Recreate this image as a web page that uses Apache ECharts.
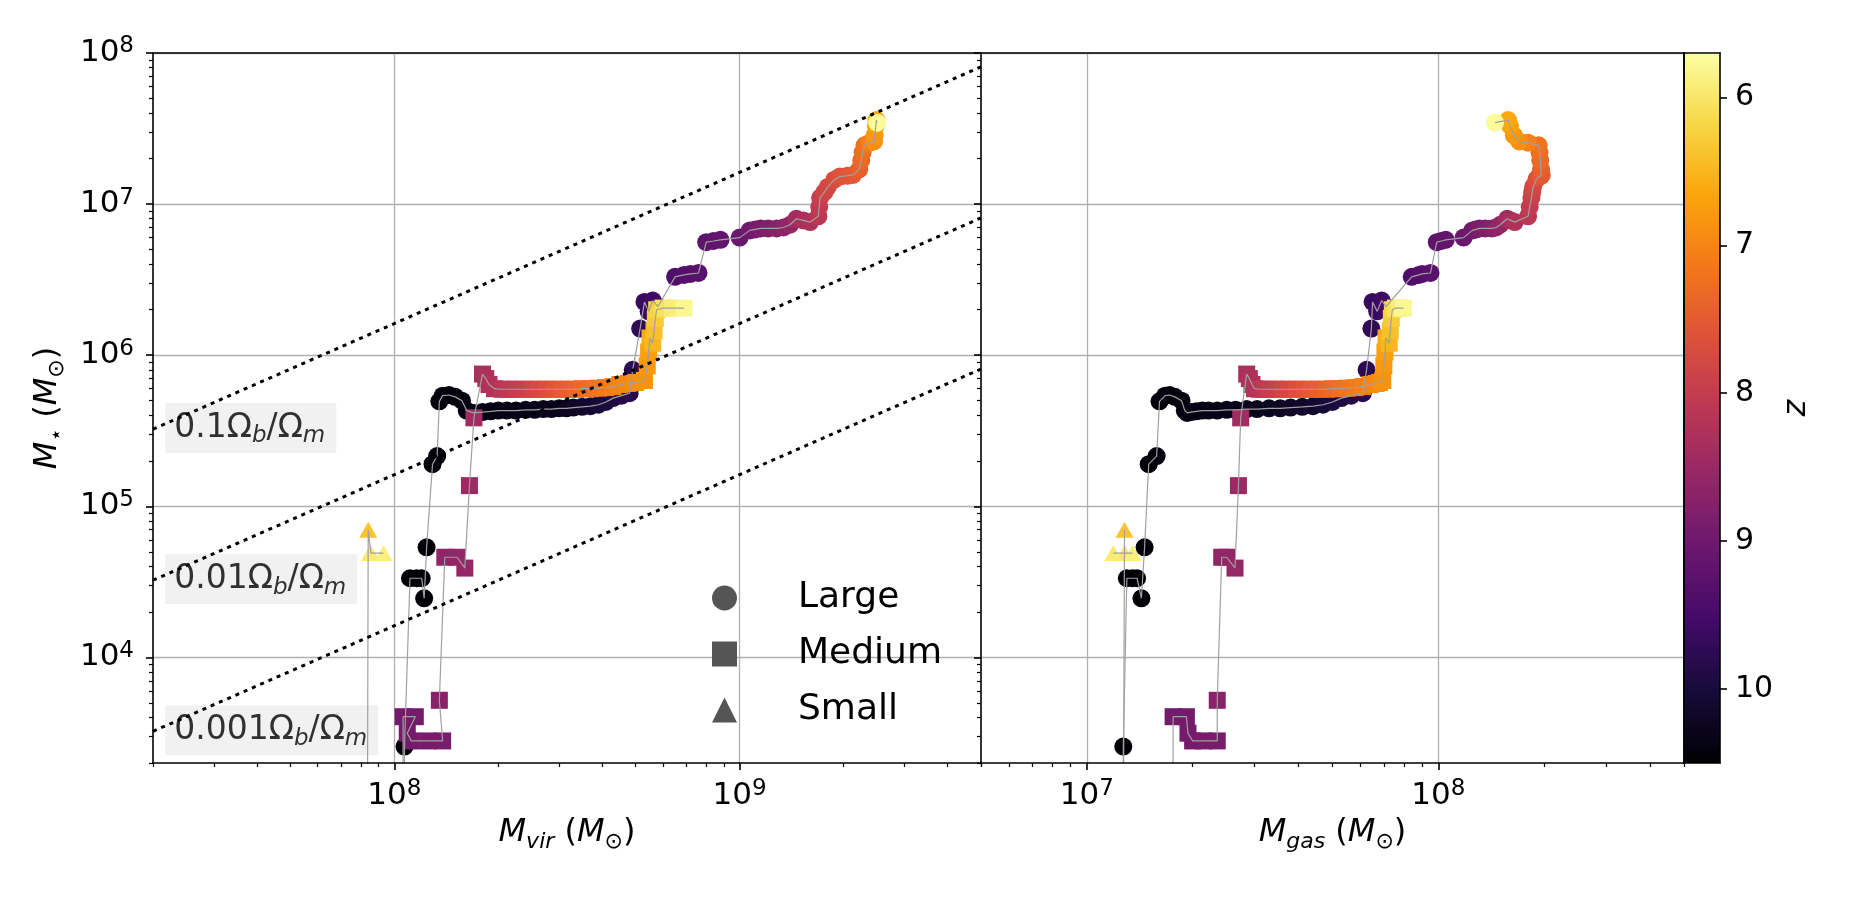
<!DOCTYPE html>
<html><head><meta charset="utf-8">
<script src="https://cdn.jsdelivr.net/npm/echarts@6/dist/echarts.min.js"></script>
<style>html,body{margin:0;padding:0;background:#fff}#c{width:1875px;height:900px}</style>
</head><body><div id="c"></div>
<script>
// ---------------- data ----------------
// Large halo track
const largeMvir = [1.07e8,1.07e8,1.11e8,1.16e8,1.20e8,1.22e8,1.24e8,1.29e8,1.33e8,1.35e8,1.38e8,1.44e8,1.50e8,1.57e8,
  1.62e8,1.70e8,1.80e8,1.90e8,2.0e8,2.12e8,2.25e8,2.4e8,2.55e8,2.7e8,2.85e8,3.0e8,3.15e8,3.3e8,3.5e8,3.7e8,3.9e8,4.1e8,4.3e8,4.55e8,4.8e8,
  4.9e8,5.15e8,5.3e8,5.45e8,5.6e8,5.8e8,6.5e8,6.9e8,7.2e8,7.6e8,8.0e8,8.4e8,8.8e8,1.0e9,1.07e9,1.11e9,1.15e9,1.21e9,1.28e9,1.34e9,1.40e9,
  1.46e9,1.53e9,1.6e9,1.69e9,1.70e9,1.71e9,1.76e9,1.8e9,1.88e9,1.95e9,2.05e9,2.13e9,2.22e9,2.25e9,2.27e9,2.3e9,2.38e9,2.45e9,2.46e9,2.48e9,2.49e9,2.5e9];
const largeMgas = [1.27e7,1.27e7,1.30e7,1.35e7,1.39e7,1.43e7,1.46e7,1.50e7,1.58e7,1.61e7,1.67e7,1.72e7,1.78e7,1.86e7,
  1.90e7,1.93e7,1.98e7,2.05e7,2.13e7,2.22e7,2.35e7,2.5e7,2.65e7,2.85e7,3.05e7,3.3e7,3.55e7,3.8e7,4.1e7,4.4e7,4.7e7,5.0e7,5.3e7,5.65e7,6.1e7,
  6.25e7,6.45e7,6.5e7,6.7e7,6.9e7,7.1e7,8.4e7,8.8e7,9.0e7,9.5e7,9.9e7,1.02e8,1.05e8,1.18e8,1.25e8,1.28e8,1.31e8,1.36e8,1.42e8,1.46e8,1.50e8,
  1.57e8,1.61e8,1.65e8,1.80e8,1.82e8,1.84e8,1.85e8,1.86e8,1.90e8,1.93e8,1.96e8,1.97e8,1.96e8,1.95e8,1.94e8,1.93e8,1.80e8,1.70e8,1.64e8,1.60e8,1.58e8,1.45e8];
const largeMstar = [400,2.57e3,3.34e4,3.34e4,3.34e4,2.46e4,5.35e4,1.9e5,2.15e5,4.95e5,5.4e5,5.45e5,5.3e5,5.0e5,
  4.3e5,4.15e5,4.2e5,4.25e5,4.3e5,4.3e5,4.3e5,4.35e5,4.35e5,4.4e5,4.4e5,4.45e5,4.45e5,4.5e5,4.55e5,4.6e5,4.7e5,4.9e5,5.2e5,5.4e5,5.6e5,
  8.0e5,1.5e6,2.25e6,1.95e6,2.3e6,2.1e6,3.3e6,3.4e6,3.45e6,3.5e6,5.6e6,5.7e6,5.8e6,6.0e6,6.7e6,6.8e6,6.9e6,6.9e6,6.9e6,7.0e6,7.3e6,
  8.0e6,7.8e6,7.6e6,8.3e6,9.6e6,1.1e7,1.2e7,1.3e7,1.45e7,1.52e7,1.54e7,1.56e7,1.7e7,1.95e7,2.2e7,2.45e7,2.55e7,2.6e7,2.85e7,3.3e7,3.6e7,3.46e7];
const largeZ = [10.5,10.5,10.49,10.485,10.48,10.47,10.46,10.45,10.44,10.43,10.42,10.415,10.41,10.40,
  10.39,10.38,10.37,10.36,10.35,10.34,10.33,10.32,10.31,10.29,10.27,10.25,10.22,10.19,10.15,10.1,10.04,9.98,9.93,9.88,9.84,
  9.78,9.72,9.66,9.62,9.58,9.52,9.38,9.34,9.3,9.26,9.2,9.17,9.14,9.06,9.0,8.94,8.87,8.8,8.72,8.65,8.58,
  8.4,8.32,8.25,8.1,8.02,7.95,7.86,7.78,7.7,7.62,7.56,7.52,7.43,7.33,7.26,7.2,7.05,6.9,6.8,6.7,6.62,5.75];
// Medium halo track
const mediumMvir = [1.06e8,1.06e8,1.15e8,1.09e8,1.12e8,1.25e8,1.38e8,1.35e8,1.40e8,1.52e8,1.60e8,1.65e8,1.70e8,
  1.80e8,1.84e8,1.88e8,1.95e8,2.05e8,2.15e8,2.25e8,2.37e8,2.5e8,2.63e8,2.77e8,2.9e8,3.05e8,3.2e8,3.35e8,3.5e8,3.7e8,3.9e8,4.1e8,4.3e8,4.5e8,4.75e8,5.0e8,5.3e8,
  5.4e8,5.45e8,5.5e8,5.6e8,5.65e8,5.7e8,5.75e8,6.0e8,6.4e8,6.9e8];
const mediumMgas = [1.76e7,1.76e7,1.92e7,1.94e7,2.0e7,2.15e7,2.35e7,2.35e7,2.42e7,2.5e7,2.64e7,2.70e7,2.74e7,
  2.85e7,2.9e7,2.95e7,3.0e7,3.1e7,3.2e7,3.3e7,3.45e7,3.6e7,3.75e7,3.95e7,4.15e7,4.35e7,4.55e7,4.8e7,5.0e7,5.25e7,5.5e7,5.8e7,6.1e7,6.4e7,6.65e7,6.8e7,6.95e7,
  7.0e7,7.05e7,7.1e7,7.25e7,7.3e7,7.35e7,7.4e7,7.55e7,7.75e7,7.95e7];
const mediumMstar = [400,4.05e3,4.05e3,3.15e3,2.8e3,2.8e3,2.8e3,5.2e3,4.6e4,4.6e4,3.9e4,1.37e5,3.85e5,
  7.5e5,7.0e5,6.4e5,6.0e5,5.95e5,5.95e5,5.95e5,5.95e5,5.95e5,5.95e5,5.95e5,5.95e5,5.95e5,5.95e5,5.95e5,6.0e5,6.0e5,6.05e5,6.1e5,6.2e5,6.4e5,6.5e5,6.6e5,6.8e5,
  8.5e5,1.05e6,1.3e6,1.2e6,1.45e6,1.75e6,2.0e6,2.05e6,2.05e6,2.05e6];
const mediumZ = [8.95,8.95,8.94,8.93,8.92,8.91,8.9,8.7,8.6,8.58,8.55,8.5,8.42,
  8.32,8.28,8.24,8.2,8.13,8.06,8.0,7.92,7.84,7.75,7.66,7.58,7.5,7.43,7.36,7.3,7.24,7.18,7.12,7.07,7.02,6.96,6.9,6.85,
  6.8,6.72,6.6,6.5,6.4,6.3,6.2,6.05,5.92,5.8];
// Small halo track
const smallMvir = [8.35e7,8.4e7,8.55e7,8.5e7,9.3e7];
const smallMgas = [1.27e7,1.28e7,1.28e7,1.19e7,1.35e7];
const smallMstar = [400,7.0e4,4.9e4,4.9e4,4.9e4];
const smallZ = [6.6,6.35,6.0,5.95,5.9];

// constant baryon-fraction reference lines (end points) and their labels
const fracNames = ['0.1','0.01','0.001'];
const fracStart = [[2e7,3.24e5],[2e7,3.24e4],[2e7,3.24e3]];
const fracEnd = [[5e9,8.1e7],[5e9,8.1e6],[5e9,8.1e5]];
const fracLabelAt = [[2.17e7,3.3e5],[2.17e7,3.3e4],[2.17e7,3.3e3]];

// ticks
const xMajorVir = [1e8,1e9];
const xMinorVir = [2.001e7,3e7,4e7,5e7,6e7,7e7,8e7,9e7,2e8,3e8,4e8,5e8,6e8,7e8,8e8,9e8,2e9,3e9,4e9,4.999e9];
const xMajorGas = [1e7,1e8];
const xMinorGas = [5.001e6,6e6,7e6,8e6,9e6,2e7,3e7,4e7,5e7,6e7,7e7,8e7,9e7,2e8,3e8,4e8,4.999e8];
const yMajor = [1e4,1e5,1e6,1e7,1e8];
const yMinor = [2.001e3,3e3,4e3,5e3,6e3,7e3,8e3,9e3,2e4,3e4,4e4,5e4,6e4,7e4,8e4,9e4,2e5,3e5,4e5,5e5,6e5,7e5,8e5,9e5,2e6,3e6,4e6,5e6,6e6,7e6,8e6,9e6,2e7,3e7,4e7,5e7,6e7,7e7,8e7,9e7];
const cbarTicks = [6,7,8,9,10];
const zMin = 5.7, zMax = 10.5;
// inferno colormap stops, from high value (yellow) to low value (black)
const infernoRev = ['#fcffa4','#f6d746','#fca50a','#f37819','#dd513a','#bc3754','#932667','#6a176e','#420a68','#160b39','#000004'];

// ---------------- chart ----------------
const FONT = 'DejaVu Sans';
const BLACK = '#000';
const spine = {color:BLACK, width:1.6};
const tracks = [
  {name:'Large', symbol:'circle', size:18, vir:largeMvir, gas:largeMgas, ms:largeMstar, z:largeZ},
  {name:'Medium', symbol:'rect', size:17, vir:mediumMvir, gas:mediumMgas, ms:mediumMstar, z:mediumZ},
  {name:'Small', symbol:'triangle', size:[18,16], vir:smallMvir, gas:smallMgas, ms:smallMstar, z:smallZ}
];

function pow10Label(v){ const e = Math.round(Math.log10(v)); return '{b|10}{e|' + e + '}'; }
const powRich = {
  b:{fontSize:31, lineHeight:36, fontFamily:FONT, color:BLACK},
  e:{fontSize:23, lineHeight:16, verticalAlign:'top', fontFamily:FONT, color:BLACK}
};
const nameRich = {
  i:{fontSize:32, lineHeight:40, fontStyle:'italic', fontFamily:FONT, color:BLACK},
  n:{fontSize:32, lineHeight:40, fontFamily:FONT, color:BLACK},
  s:{fontSize:22, lineHeight:20, verticalAlign:'bottom', fontStyle:'italic', fontFamily:FONT, color:BLACK},
  u:{fontSize:22, lineHeight:20, verticalAlign:'bottom', fontFamily:FONT, color:BLACK}
};

function mainX(grid, min, max, majors, name){
  return {gridIndex:grid, type:'log', logBase:10, min:min, max:max, position:'bottom', z:1,
    axisLine:{show:false, onZero:false},
    axisTick:{show:true, customValues:majors, length:7, lineStyle:spine},
    axisLabel:{show:true, customValues:majors, formatter:pow10Label, rich:powRich, margin:15},
    splitLine:{show:true, lineStyle:{color:'#b0b0b0', width:1.3}},
    name:name, nameLocation:'middle', nameGap:50, nameMoveOverlap:false,
    nameTextStyle:{rich:nameRich}};
}
function minorX(grid, min, max, minors){
  return {gridIndex:grid, type:'log', logBase:10, min:min, max:max, position:'bottom', z:5,
    axisLine:{show:true, onZero:false, lineStyle:spine},
    axisTick:{show:true, customValues:minors, length:4, lineStyle:{color:BLACK, width:1.2}},
    axisLabel:{show:false}, splitLine:{show:false}};
}
function topX(grid, min, max, type){
  return {gridIndex:grid, type:type||'log', logBase:10, min:min, max:max, position:'top', z:5,
    axisLine:{show:true, onZero:false, lineStyle:spine},
    axisTick:{show:false}, axisLabel:{show:false}, splitLine:{show:false}};
}
function mainY(grid, labels, name){
  return {gridIndex:grid, type:'log', logBase:10, min:2e3, max:1e8, position:'left', z:1,
    axisLine:{show:false, onZero:false},
    axisTick:{show:true, customValues:yMajor, length:7, lineStyle:spine},
    axisLabel:{show:labels, customValues:yMajor, formatter:pow10Label, rich:powRich, margin:19},
    splitLine:{show:true, lineStyle:{color:'#b0b0b0', width:1.3}},
    name:name||'', nameLocation:'middle', nameGap:85, nameRotate:90, nameMoveOverlap:false,
    nameTextStyle:{rich:nameRich}};
}
function minorY(grid){
  return {gridIndex:grid, type:'log', logBase:10, min:2e3, max:1e8, position:'left', z:5,
    axisLine:{show:true, onZero:false, lineStyle:spine},
    axisTick:{show:true, customValues:yMinor, length:4, lineStyle:{color:BLACK, width:1.2}},
    axisLabel:{show:false}, splitLine:{show:false}};
}
function spineY(grid, pos, type, min, max){
  return {gridIndex:grid, type:type||'log', logBase:10, min:min||2e3, max:max||1e8, position:pos, z:6,
    axisLine:{show:true, onZero:false, lineStyle:spine},
    axisTick:{show:false}, axisLabel:{show:false}, splitLine:{show:false}};
}

const xAxis = [
  mainX(0, 2e7, 5e9, xMajorVir, '{i|M}{s|vir}{n| (}{i|M}{u|⊙}{n|)}'),
  minorX(0, 2e7, 5e9, xMinorVir),
  topX(0, 2e7, 5e9),
  mainX(1, 5e6, 5e8, xMajorGas, '{i|M}{s|gas}{n| (}{i|M}{u|⊙}{n|)}'),
  minorX(1, 5e6, 5e8, xMinorGas),
  topX(1, 5e6, 5e8),
  Object.assign(topX(2, 0, 1, 'value'), {position:'bottom', z:7}),
  Object.assign(topX(2, 0, 1, 'value'), {z:7})
];
const yAxis = [
  mainY(0, true, '{i|M}{u|⋆}{n| (}{i|M}{u|⊙}{n|)}'),
  minorY(0),
  mainY(1, false),
  minorY(1),
  spineY(1, 'right'),
  {gridIndex:2, type:'value', min:zMin, max:zMax, inverse:true, position:'right', z:7,
    axisLine:{show:true, onZero:false, lineStyle:spine},
    axisTick:{show:true, customValues:cbarTicks, length:7, lineStyle:spine},
    axisLabel:{show:true, customValues:cbarTicks, fontSize:30, fontFamily:FONT, color:BLACK, margin:15},
    splitLine:{show:false},
    name:'z', nameLocation:'middle', nameRotate:90, nameGap:61, nameMoveOverlap:false,
    nameTextStyle:{fontSize:32, fontStyle:'italic', fontFamily:FONT, color:BLACK}},
  Object.assign(spineY(2, 'left', 'value', zMin, zMax), {z:7})
];

const series = [];
// scatter markers (coloured by redshift through the visualMap)
[[0,0,'vir'],[3,2,'gas']].forEach(([xi, yi, key]) => {
  tracks.forEach(t => series.push({
    type:'scatter', name:t.name, xAxisIndex:xi, yAxisIndex:yi, symbol:t.symbol, symbolSize:t.size,
    data:t[key].map((x,i)=>[x, t.ms[i], t.z[i]]), z:2, silent:true, clip:true,
    itemStyle:{opacity:1}
  }));
});
// thin grey connecting lines
[[0,0,'vir'],[3,2,'gas']].forEach(([xi, yi, key]) => {
  tracks.forEach(t => series.push({
    type:'line', name:t.name + ' path', xAxisIndex:xi, yAxisIndex:yi, symbol:'none', showSymbol:false,
    data:t[key].map((x,i)=>[x, t.ms[i]]), z:4, silent:true, clip:true,
    lineStyle:{color:'#a0a0a0', width:1.2}
  }));
});
// dotted baryon fraction lines
fracNames.forEach((n,i) => series.push({
  type:'line', name:'f' + n, xAxisIndex:0, yAxisIndex:0, symbol:'none', showSymbol:false,
  data:[fracStart[i], fracEnd[i]], z:6, silent:true, clip:true,
  lineStyle:{color:BLACK, width:3, type:[4,5]}
}));
// their labels
series.push({
  type:'scatter', name:'labels', xAxisIndex:0, yAxisIndex:0, symbolSize:0, silent:true, z:3,
  data:fracLabelAt.map((p,i)=>({value:p, label:{formatter:'{n|' + fracNames[i] + 'Ω}{s|b}{n|/Ω}{s|m}'}})),
  label:{show:true, position:'right', distance:0, backgroundColor:'#eeeeee', padding:[5,11,5,9],
    rich:{
      n:{fontSize:33, lineHeight:40, fontFamily:FONT, color:BLACK},
      s:{fontSize:23, lineHeight:20, verticalAlign:'bottom', fontStyle:'italic', fontFamily:FONT, color:BLACK}
    }}
});

const option = {
  animation:false,
  backgroundColor:'#ffffff',
  grid:[
    {left:153, top:53, width:828, height:710, outerBoundsMode:'none', containLabel:false},
    {left:981, top:53, width:703, height:710, outerBoundsMode:'none', containLabel:false},
    {left:1684, top:53, width:36, height:710, outerBoundsMode:'none', containLabel:false}
  ],
  xAxis:xAxis,
  yAxis:yAxis,
  visualMap:[{
    type:'continuous', min:zMin, max:zMax, dimension:2, seriesIndex:[0,1,2,3,4,5],
    inRange:{color:infernoRev}, inverse:true, orient:'vertical',
    left:1684, top:53, itemWidth:36, itemHeight:710, padding:0,
    calculable:false, realtime:false, hoverLink:false, z:4
  }],
  legend:{
    orient:'vertical', left:712, top:580, padding:0, itemWidth:25, itemHeight:25, itemGap:20,
    selectedMode:false,
    textStyle:{fontSize:36, fontFamily:FONT, color:BLACK, lineHeight:36, padding:[0,0,0,56]},
    data:[
      {name:'Large', icon:'circle', itemStyle:{color:'#555555'}},
      {name:'Medium', icon:'rect', itemStyle:{color:'#555555'}},
      {name:'Small', icon:'triangle', itemStyle:{color:'#555555'}}
    ]
  },
  series:series
};
const chart = echarts.init(document.getElementById('c'), null, {renderer:'canvas'});
chart.setOption(option);
</script></body></html>
